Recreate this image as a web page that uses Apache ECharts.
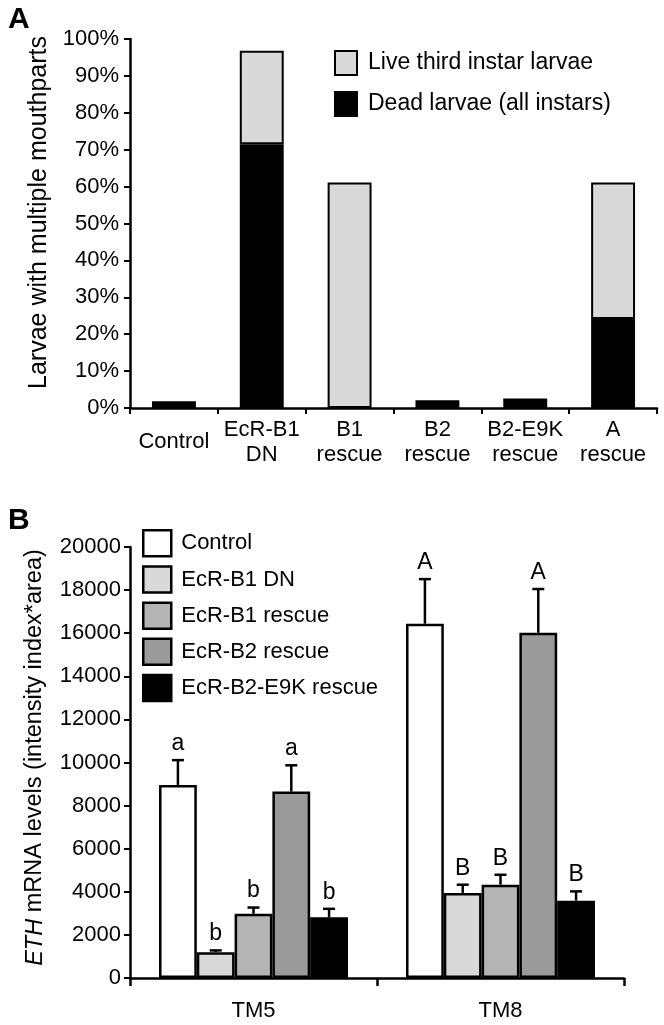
<!DOCTYPE html>
<html>
<head>
<meta charset="utf-8">
<script src="https://cdn.jsdelivr.net/npm/echarts@6/dist/echarts.min.js"></script>
<style>
html,body{margin:0;padding:0;background:#fff;}
#chart{width:664px;height:1025px;}
</style>
</head>
<body>
<div id="chart"></div>
<script>
// ---------- Panel A data ----------
const catsA = ['Control', 'EcR-B1\nDN', 'B1\nrescue', 'B2\nrescue', 'B2-E9K\nrescue', 'A\nrescue'];
const deadA = [1.8, 71.5, 0, 2.1, 2.6, 24.1];
const liveA = [0, 25.3, 61.1, 0, 0, 37.0];
const nameLive = 'Live third instar larvae';
const nameDead = 'Dead larvae (all instars)';

// ---------- Panel B data ----------
const catsB = ['TM5', 'TM8'];
const seriesNamesB = ['Control', 'EcR-B1 DN', 'EcR-B1 rescue', 'EcR-B2 rescue', 'EcR-B2-E9K rescue'];
const colorsB = ['#ffffff', '#d9d9d9', '#b4b4b4', '#9a9a9a', '#000000'];
const meanTM5 = [8960, 1200, 2980, 8650, 2820];
const errTM5  = [1150, 80, 290, 1220, 390];
const meanTM8 = [16440, 3950, 4330, 16020, 3590];
const errTM8  = [2070, 380, 460, 2030, 430];
const lettersTM5 = ['a', 'b', 'b', 'a', 'b'];
const lettersTM8 = ['A', 'B', 'B', 'A', 'B'];

const FONT = '"Liberation Sans", Arial, sans-serif';
const chart = echarts.init(document.getElementById('chart'), null, {renderer: 'canvas'});

const nz = v => (v === 0 ? '-' : v);
const catGapB = 0.235;

const barsB = seriesNamesB.map((n, i) => ({
  name: n, type: 'bar', xAxisIndex: 1, yAxisIndex: 1,
  barGap: '0%', barCategoryGap: (catGapB * 100) + '%',
  data: [meanTM5[i], meanTM8[i]],
  itemStyle: {color: colorsB[i], borderColor: '#000', borderWidth: 2.5}
}));

const errData = [];
seriesNamesB.forEach((n, i) => {
  errData.push([0, i, meanTM5[i], errTM5[i], lettersTM5[i]]);
  errData.push([1, i, meanTM8[i], errTM8[i], lettersTM8[i]]);
});

const errSeries = {
  type: 'custom', xAxisIndex: 1, yAxisIndex: 1, z: 5,
  data: errData,
  renderItem: function (params, api) {
    const cat = api.value(0), idx = api.value(1), mean = api.value(2), err = api.value(3);
    const letter = errData[params.dataIndex][4];
    const band = api.size([1, 0])[0];
    const groupW = band * (1 - catGapB);
    const bw = groupW / seriesNamesB.length;
    const cx = api.coord([cat, 0])[0] - groupW / 2 + (idx + 0.5) * bw;
    const y0 = api.coord([cat, mean])[1];
    const y1 = api.coord([cat, mean + err])[1];
    const st = {stroke: '#000', lineWidth: 2.5};
    return {
      type: 'group',
      children: [
        {type: 'line', shape: {x1: cx, y1: y0, x2: cx, y2: y1}, style: st},
        {type: 'line', shape: {x1: cx - 6, y1: y1, x2: cx + 6, y2: y1}, style: st},
        {type: 'text', style: {x: cx, y: y1 - 5, text: letter, textAlign: 'center', textVerticalAlign: 'bottom',
          font: '23px ' + FONT, fill: '#000'}}
      ]
    };
  }
};

const axisLineStyle = {show: true, lineStyle: {color: '#000', width: 2.5}};
const tickStyle = {show: true, length: 6, lineStyle: {color: '#000', width: 2}};

const option = {
  animation: false,
  backgroundColor: '#fff',
  textStyle: {fontFamily: FONT, color: '#000'},
  grid: [
    {left: 130, right: 7, top: 39, bottom: 617, containLabel: false},
    {left: 130, right: 40, top: 547, bottom: 47, containLabel: false}
  ],
  legend: [
    {
      data: [nameLive, nameDead], orient: 'vertical', left: 329, top: 45,
      itemWidth: 22, itemHeight: 24, itemGap: 15, icon: 'rect',
      itemStyle: {borderColor: '#000', borderWidth: 2},
      textStyle: {fontSize: 23, fontFamily: FONT, color: '#000', padding: [0, 0, 0, 6]},
      selectedMode: false
    },
    {
      data: seriesNamesB, orient: 'vertical', left: 137, top: 524,
      itemWidth: 28, itemHeight: 26, itemGap: 7.7, icon: 'rect',
      itemStyle: {borderColor: '#000', borderWidth: 2.5},
      textStyle: {fontSize: 22, fontFamily: FONT, color: '#000', padding: [0, 0, 0, 5]},
      selectedMode: false
    }
  ],
  xAxis: [
    {
      type: 'category', gridIndex: 0, data: catsA,
      axisLine: axisLineStyle, axisTick: tickStyle,
      axisLabel: {fontSize: 22, color: '#000', fontFamily: FONT, margin: 34, verticalAlign: 'middle', lineHeight: 25, interval: 0}
    },
    {
      type: 'category', gridIndex: 1, data: catsB,
      axisLine: axisLineStyle, axisTick: {show: true, length: 8, lineStyle: {color: '#000', width: 2.5}},
      axisLabel: {fontSize: 22, color: '#000', fontFamily: FONT, margin: 33, verticalAlign: 'middle', interval: 0}
    }
  ],
  yAxis: [
    {
      type: 'value', gridIndex: 0, min: 0, max: 100, interval: 10,
      axisLine: axisLineStyle, axisTick: tickStyle, splitLine: {show: false},
      axisLabel: {fontSize: 22, color: '#000', fontFamily: FONT, margin: 11, formatter: '{value}%'},
      name: 'Larvae with multiple mouthparts', nameLocation: 'middle', nameGap: 76,
      nameTextStyle: {fontSize: 25, color: '#000', fontFamily: FONT, padding: [0, 0, 0, 22]}
    },
    {
      type: 'value', gridIndex: 1, min: 0, max: 20000, interval: 2000,
      axisLine: axisLineStyle, axisTick: tickStyle, splitLine: {show: false},
      axisLabel: {fontSize: 22, color: '#000', fontFamily: FONT, margin: 9, formatter: v => String(v)},
      name: '{i|ETH} mRNA levels (intensity index*area)', nameLocation: 'middle', nameGap: 83,
      nameTextStyle: {fontSize: 23.5, color: '#000', fontFamily: FONT, padding: [0, 0, 0, 10],
        rich: {i: {fontStyle: 'italic', fontSize: 23.5, fontFamily: FONT, color: '#000'}}}
    }
  ],
  graphic: [
    {type: 'text', left: 8, top: 5, style: {text: 'A', font: 'bold 30px ' + FONT, fill: '#000'}},
    {type: 'text', left: 8, top: 506, style: {text: 'B', font: 'bold 30px ' + FONT, fill: '#000'}}
  ],
  series: [
    {
      name: nameDead, type: 'bar', stack: 'a', xAxisIndex: 0, yAxisIndex: 0, barWidth: '50%',
      data: deadA.map(nz),
      itemStyle: {color: '#000', borderColor: '#000', borderWidth: 2}
    },
    {
      name: nameLive, type: 'bar', stack: 'a', xAxisIndex: 0, yAxisIndex: 0, barWidth: '50%',
      data: liveA.map(nz),
      itemStyle: {color: '#d9d9d9', borderColor: '#000', borderWidth: 2}
    }
  ].concat(barsB, [errSeries])
};

chart.setOption(option);
</script>
</body>
</html>
